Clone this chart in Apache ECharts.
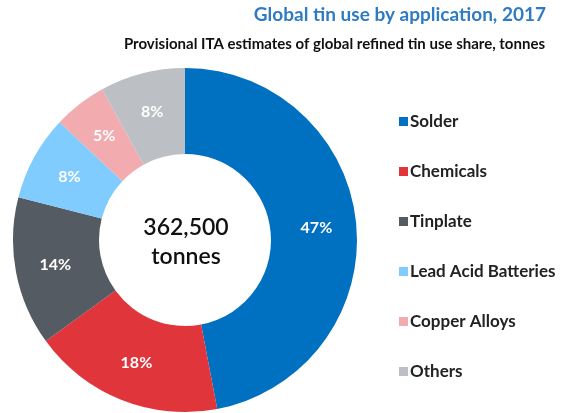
<!DOCTYPE html>
<html><head><meta charset="utf-8">
<script src="https://cdn.jsdelivr.net/npm/echarts@6/dist/echarts.min.js"></script>
<style>html,body{margin:0;padding:0;background:#fff}#c{width:562px;height:413px}</style>
</head><body><div id="c"></div>
<script>
const categories = ['Solder','Chemicals','Tinplate','Lead Acid Batteries','Copper Alloys','Others'];
const shares = [47, 18, 14, 8, 5, 8];
const colors = ['#0070C0','#DF353B','#545B63','#80CCFF','#F2ABAF','#BCC0C4'];
const totalText = ['362,500','tonnes'];
const titleText = 'Global tin use by application, 2017';
const subtitleText = 'Provisional ITA estimates of global refined tin use share, tonnes';

const chart = echarts.init(document.getElementById('c'), null, {renderer:'canvas'});
chart.setOption({
  animation:false,
  color: colors,
  title:[
    {text:titleText, right:11, top:0, textStyle:{fontFamily:'Lato', fontWeight:'bold', fontSize:19, color:'#2E7BC4'}},
    {text:subtitleText, right:12, top:32, textStyle:{fontFamily:'Lato', fontWeight:'bold', fontSize:15, color:'#111'}}
  ],
  legend:{
    orient:'vertical', left:394, top:108, itemWidth:9, itemHeight:9, itemGap:33, icon:'rect',
    textStyle:{fontFamily:'Lato', fontWeight:'bold', fontSize:17, color:'#222', lineHeight:17, padding:[0,0,0,-3]},
    data: categories
  },
  graphic:[{type:'text', z:100, zlevel:0,
    style:{text: totalText.join('\n'), x:186, y:242, textAlign:'center', textVerticalAlign:'middle', fontFamily:'Lato', fontWeight:'600', fontSize:23, lineHeight:29, fill:'#111'}}],
  series:[{
    type:'pie', center:[185,240], radius:[86,172], startAngle:90, clockwise:true,
    avoidLabelOverlap:false, z:2,
    itemStyle:{borderWidth:0},
    label:{show:true, position:'inside', formatter:'{c}%', color:'#fff', fontFamily:'Lato', fontWeight:'bold', fontSize:16},
    labelLine:{show:false},
    emphasis:{disabled:true},
    data: categories.map((n,i)=>({name:n, value:shares[i]}))
  }]
});
</script></body></html>
